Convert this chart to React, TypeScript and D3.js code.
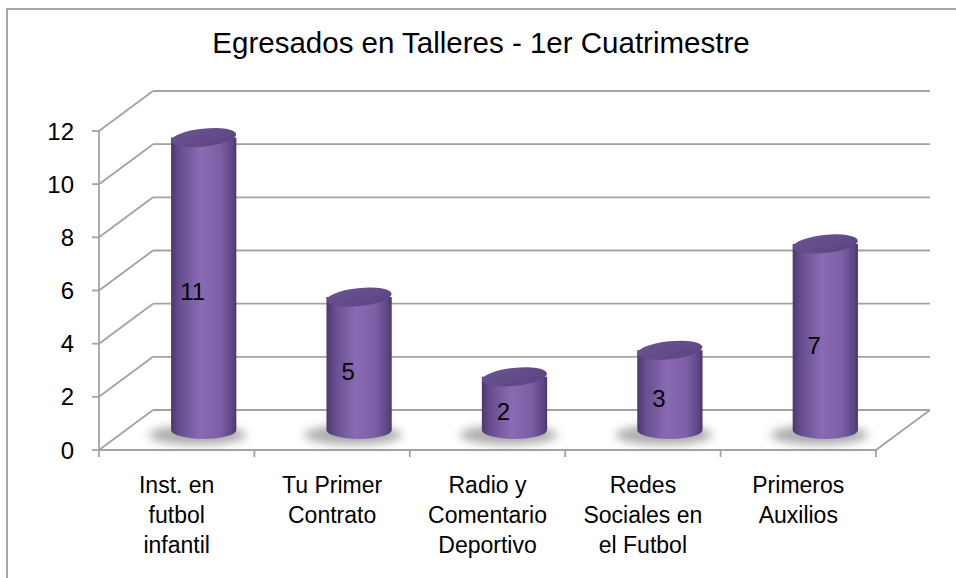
import React from 'react';
import * as d3 from 'd3';

const title = 'Egresados en Talleres - 1er Cuatrimestre';
const categories = [
  ['Inst. en', 'futbol', 'infantil'],
  ['Tu Primer', 'Contrato'],
  ['Radio y', 'Comentario', 'Deportivo'],
  ['Redes', 'Sociales en', 'el Futbol'],
  ['Primeros', 'Auxilios'],
];
const values = [11, 5, 2, 3, 7];
const yTicks = [0, 2, 4, 6, 8, 10, 12];

const W = 956;
const H = 578;
// front plane of the 3D box
const x0 = 99;
const x1 = 876;
const yBase = 450;
const yTop = 131;
// depth offset of the back wall
const depth = { dx: 54, dy: -40 };

const font = '"Liberation Sans", Arial, sans-serif';
const grid = '#a3a3a3';

export default function App() {
  const y = d3.scaleLinear().domain([0, 12]).range([yBase, yTop]);
  const x = d3
    .scaleBand<number>()
    .domain(values.map((_, i) => i))
    .range([x0, x1]);

  const rx = x.bandwidth() * 0.21;
  const ry = 9;
  const half = { dx: depth.dx / 2, dy: depth.dy / 2 };

  return (
    <svg
      width={W}
      height={H}
      style={{ position: 'absolute', left: 0, top: 0, background: '#fff' }}
      fontFamily={font}
    >
      <defs>
        <linearGradient id="body" x1="0" x2="1" y1="0" y2="0">
          <stop offset="0" stopColor="#4b386b" />
          <stop offset="0.12" stopColor="#654c8f" />
          <stop offset="0.45" stopColor="#8a6bb3" />
          <stop offset="0.75" stopColor="#7c5fa6" />
          <stop offset="0.94" stopColor="#5c4584" />
          <stop offset="1" stopColor="#4a376a" />
        </linearGradient>
        <linearGradient id="top" x1="0" x2="1" y1="0" y2="1">
          <stop offset="0" stopColor="#6b5392" />
          <stop offset="1" stopColor="#5a4480" />
        </linearGradient>
        <filter id="blur" x="-50%" y="-100%" width="200%" height="300%">
          <feGaussianBlur stdDeviation="5" />
        </filter>
      </defs>

      {/* outer border (cropped on right and bottom) */}
      <path d={`M7,${H} L7,9 L${W},9`} fill="none" stroke="#8c8c8c" strokeWidth={1.5} />

      <text x={481} y={53} textAnchor="middle" fontSize={29.5} fill="#000">
        {title}
      </text>

      {/* back wall and side wall gridlines */}
      {yTicks.map((t) => (
        <g key={`g-${t}`} stroke={grid} strokeWidth={1.8} fill="none">
          <line x1={x0 + depth.dx} x2={x1 + depth.dx} y1={y(t) + depth.dy} y2={y(t) + depth.dy} />
          <line x1={x0} x2={x0 + depth.dx} y1={y(t)} y2={y(t) + depth.dy} />
        </g>
      ))}
      {/* floor */}
      <g stroke={grid} strokeWidth={1.8} fill="none">
        <line x1={x0} x2={x1} y1={yBase} y2={yBase} />
        <line x1={x1} x2={x1 + depth.dx} y1={yBase} y2={yBase + depth.dy} />
        <line x1={x0} x2={x0} y1={yTop} y2={yBase} />
      </g>

      {/* axis ticks */}
      {yTicks.map((t) => (
        <g key={`yt-${t}`}>
          <line x1={x0 - 7} x2={x0} y1={y(t)} y2={y(t)} stroke={grid} strokeWidth={1.8} />
          <text x={74} y={y(t)} dy="0.36em" textAnchor="end" fontSize={24} fill="#000">
            {t}
          </text>
        </g>
      ))}
      {d3.range(values.length + 1).map((i) => {
        const px = x0 + i * x.step();
        return <line key={`xt-${i}`} x1={px} x2={px} y1={yBase} y2={yBase + 7} stroke={grid} strokeWidth={1.8} />;
      })}

      {/* cylinders */}
      {values.map((v, i) => {
        const cx = (x(i) as number) + x.bandwidth() / 2 + half.dx;
        const bottom = y(0) + half.dy;
        const top = y(v) + half.dy;
        const body = `M${cx - rx},${top} L${cx - rx},${bottom} A${rx},${ry} 0 0 0 ${cx + rx},${bottom} L${cx + rx},${top} Z`;
        return (
          <g key={`c-${i}`}>
            <ellipse cx={cx - 6} cy={bottom + 5} rx={rx + 16} ry={ry + 1} fill="#8a8a8a" opacity={0.7} filter="url(#blur)" />
            <path d={body} fill="url(#body)" />
            <ellipse
              cx={cx}
              cy={top}
              rx={rx}
              ry={ry}
              fill="url(#top)"
              transform={`rotate(-6 ${cx} ${top})`}
            />
            <text x={cx - 11} y={(top + bottom) / 2 + 8} dy="0.36em" textAnchor="middle" fontSize={24} fill="#000">
              {v}
            </text>
          </g>
        );
      })}

      {/* category labels */}
      {categories.map((lines, i) => (
        <text key={`l-${i}`} textAnchor="middle" fontSize={23} fill="#000">
          {lines.map((s, j) => (
            <tspan key={j} x={(x(i) as number) + x.bandwidth() / 2} y={493 + j * 30}>
              {s}
            </tspan>
          ))}
        </text>
      ))}
    </svg>
  );
}
